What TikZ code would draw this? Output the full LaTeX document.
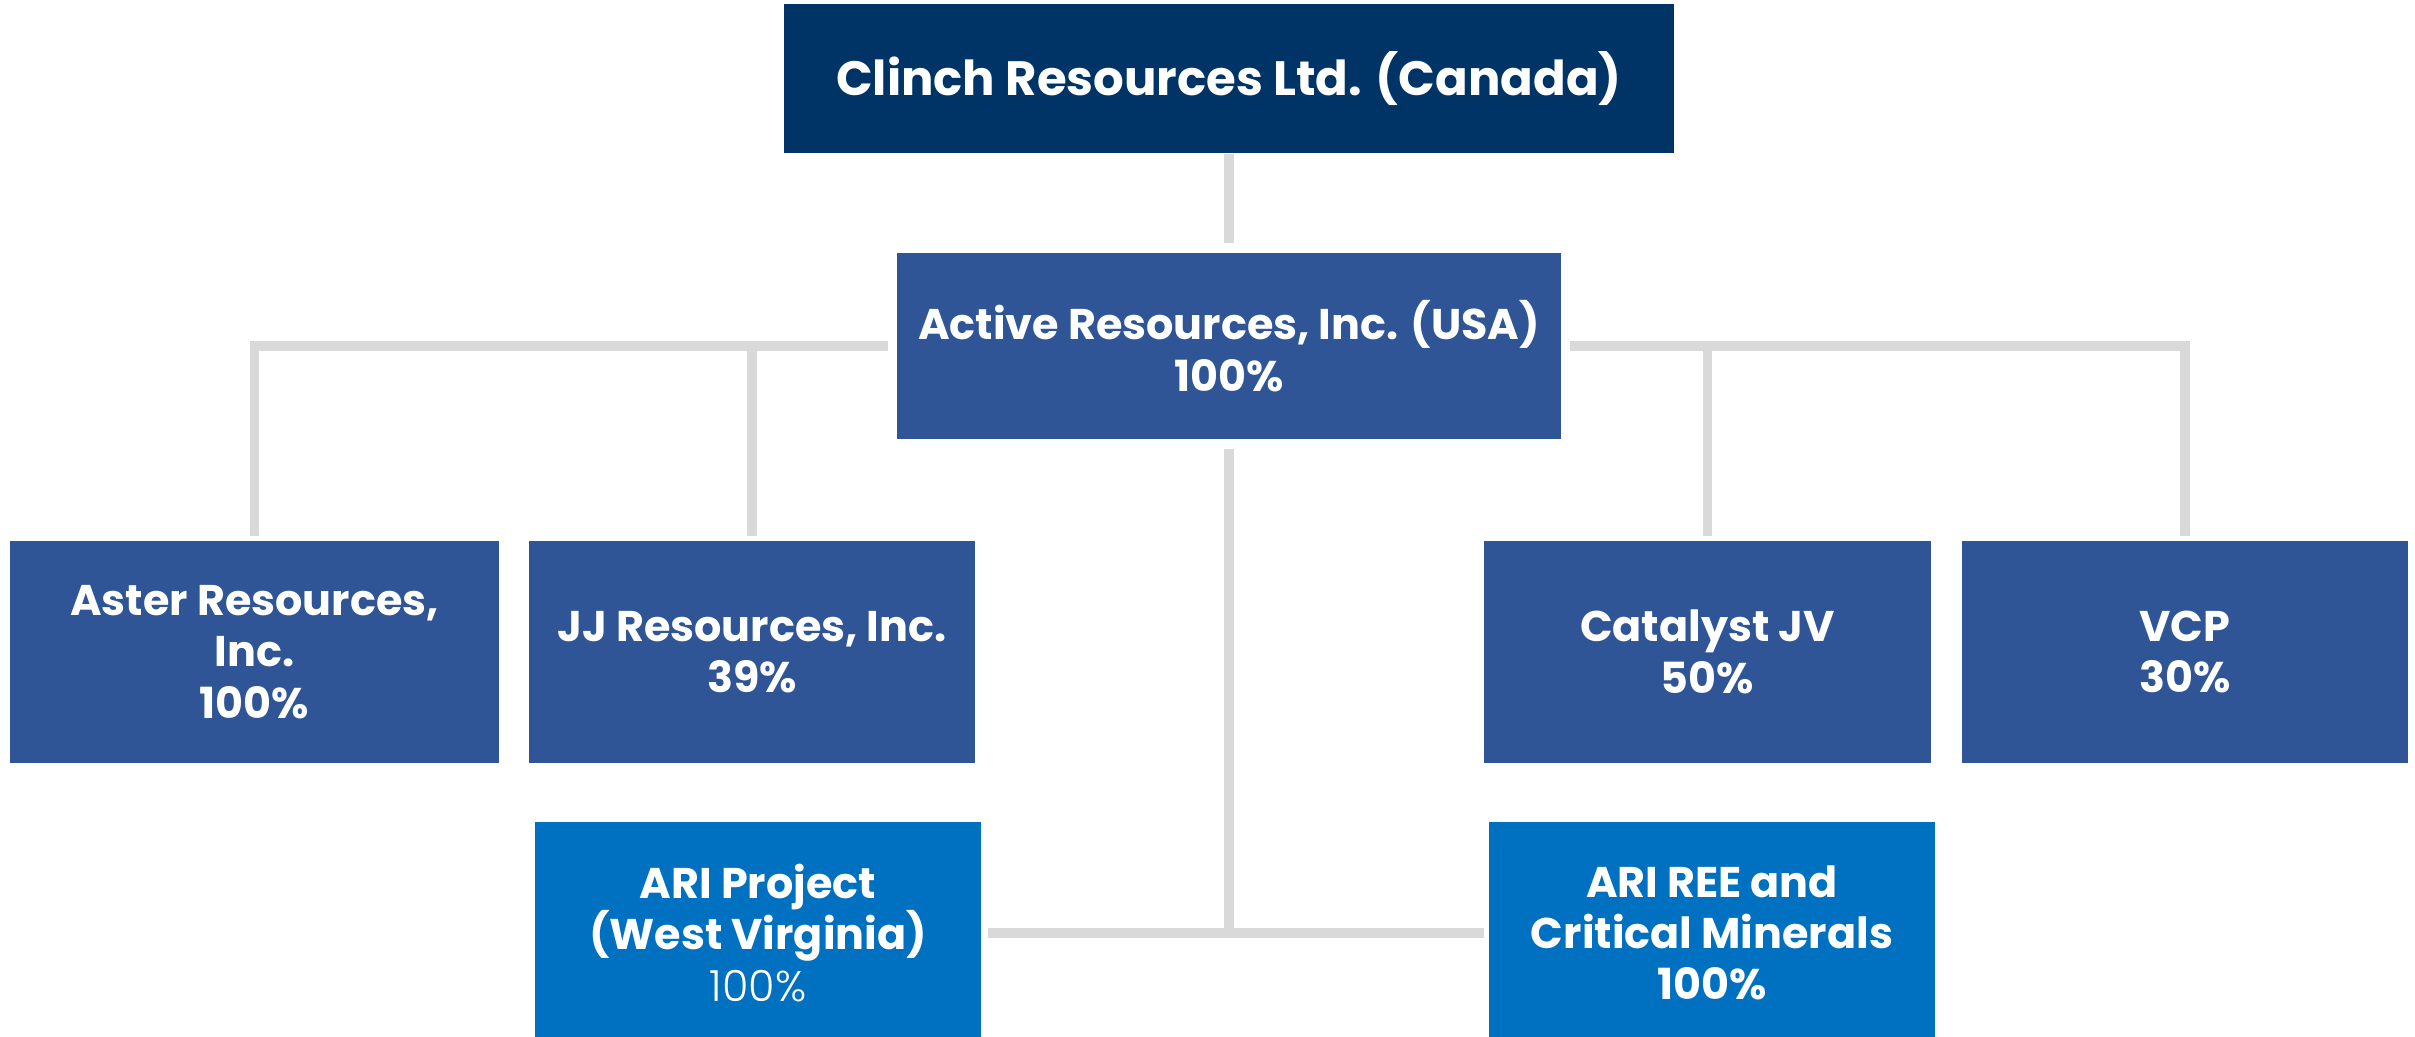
\documentclass[tikz,border=0pt]{standalone}
\usepackage{fontspec}
\setmainfont{Poppins}
\newfontfamily\plight{Poppins Light}
\definecolor{navy}{HTML}{003366}
\definecolor{midblue}{HTML}{2F5597}
\definecolor{brightblue}{HTML}{0070C0}
\definecolor{conngray}{HTML}{D9D9D9}
\begin{document}
\begin{tikzpicture}[x=0.01cm,y=-0.01cm,
  orgbox/.style={rectangle, inner sep=0pt, text=white, align=center,
    font=\fontsize{12.2}{14.6}\selectfont\bfseries, minimum height=2.22cm},
  midbox/.style={orgbox, fill=midblue},
  brightbox/.style={orgbox, fill=brightblue},
  link/.style={draw=conngray, line width=2.7pt}]
\useasboundingbox (0,0) rectangle (2415,1037);
\clip (0,0) rectangle (2415,1037);
\fill[white] (0,0) rectangle (2415,1037);
% nodes
\node[orgbox, fill=navy, minimum width=8.90cm, minimum height=1.49cm,
  font=\fontsize{13.7}{17}\selectfont\bfseries] (clinch) at (1229,78.5) {Clinch Resources Ltd. (Canada)};
\node[midbox, minimum width=6.63cm, minimum height=1.86cm,
  font=\fontsize{12.2}{14.8}\selectfont\bfseries] (active) at (1229,346) {Active Resources, Inc. (USA)\\100\%};
\node[midbox, minimum width=4.89cm] (aster) at (254.5,652) {Aster Resources,\\Inc.\\100\%};
\node[midbox, minimum width=4.46cm] (jj) at (752,652) {JJ Resources, Inc.\\39\%};
\node[midbox, minimum width=4.47cm] (catalyst) at (1707.5,652) {Catalyst JV\\50\%};
\node[midbox, minimum width=4.46cm] (vcp) at (2185,652) {VCP\\30\%};
\node[brightbox, minimum width=4.46cm] (ariproj) at (758,933) {ARI Project\\(West Virginia)\\{\plight\mdseries 100\%}};
\node[brightbox, minimum width=4.46cm] (ariree) at (1712,933) {ARI REE and\\Critical Minerals\\100\%};
% connectors
\draw[link, shorten >=0.09cm] (clinch.south) -- (active.north);
\draw[link, shorten <=0.09cm, shorten >=0.04cm] (active.west) -| (aster.north);
\draw[link, shorten <=0.09cm, shorten >=0.04cm] (active.west) -| (jj.north);
\draw[link, shorten <=0.09cm, shorten >=0.04cm] (active.east) -| (catalyst.north);
\draw[link, shorten <=0.09cm, shorten >=0.04cm] (active.east) -| (vcp.north);
\draw[link, shorten <=0.09cm, shorten >=0.06cm] (active.south) |- (ariproj.east);
\draw[link, shorten <=0.09cm, shorten >=0.04cm] (active.south) |- (ariree.west);
\end{tikzpicture}
\end{document}
